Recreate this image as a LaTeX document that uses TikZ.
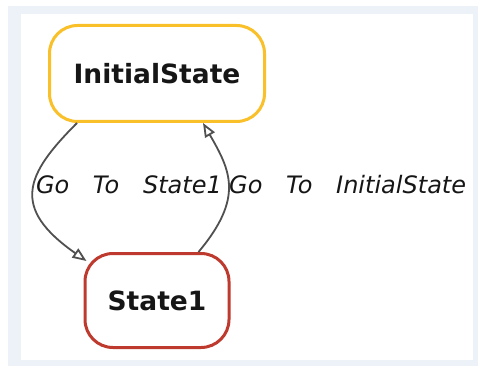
\documentclass[tikz,border=0pt]{standalone}
\usepackage{fontspec}
\usepackage{tikz}
\usetikzlibrary{arrows.meta,positioning}
\newfontfamily\stfont{DejaVu Sans}
\newfontfamily\lbfont{DejaVu Sans}[WordSpace=3.1]
\definecolor{cBand}{HTML}{EDF1F8}
\definecolor{cInitB}{HTML}{F9C02A}
\definecolor{cSoneB}{HTML}{BF3A2E}
\definecolor{cEdge}{HTML}{505050}
\definecolor{cText}{HTML}{161616}
\tikzset{
  sbox/.style={draw, line width=3pt, rounded corners=28pt, fill=white, align=center,
               inner sep=0pt, text=cText, font=\stfont\bfseries\fontsize{26.5}{30}\selectfont},
  sarr/.style={-{Triangle[length=14pt,width=11pt,fill=white]}, line width=1.8pt, draw=cEdge},
  slbl/.style={inner sep=0pt, text=cText, font=\lbfont\itshape\fontsize{24}{28}\selectfont},
}

\begin{document}
\begin{tikzpicture}
\useasboundingbox (0,0) rectangle (478pt,-366pt);
\fill[cBand] (8pt,-6pt) rectangle (478pt,-366pt);
\fill[white] (21pt,-14pt) rectangle (473pt,-360pt);
\node[sbox, draw=cInitB, minimum width=215pt, minimum height=96pt] (init) at (157pt,-73.5pt)
  {InitialState};
\node[sbox, draw=cSoneB, minimum width=144pt, minimum height=94pt, below=129pt of init] (sone)
  {State1};
\draw[sarr] ([xshift=-80pt]init.south) .. controls +(-135:73pt) and +(145:93pt) ..
  ([xshift=3pt,yshift=-9pt]sone.north west);
\draw[sarr] ([xshift=41.5pt]sone.north) .. controls +(50:71pt) and +(-60:55pt) ..
  ([xshift=46pt]init.south);
\node[slbl, anchor=east] (lblgo) at (222pt,-185pt) {Go To State1};
\node[slbl, anchor=west] (lblback) at (229pt,-185pt) {Go To InitialState};
\end{tikzpicture}
\end{document}
